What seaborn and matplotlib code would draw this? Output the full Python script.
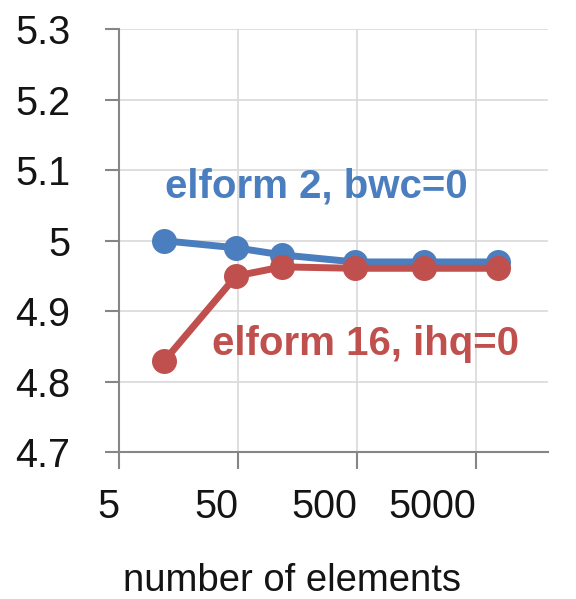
import matplotlib
matplotlib.use("Agg")
import matplotlib.pyplot as plt
import matplotlib.ticker as mticker
import seaborn as sns
import pandas as pd

# data
elements = [12, 48, 117, 475, 1840, 7650]
elform2_bwc0 = [5.00, 4.99, 4.98, 4.97, 4.97, 4.97]
elform16_ihq0 = [4.83, 4.95, 4.963, 4.961, 4.961, 4.961]
series_names = ["elform 2, bwc=0", "elform 16, ihq=0"]
x_ticks = [5, 50, 500, 5000]
x_tick_labels = ["5", "50", "500", "5000"]
y_ticks = [4.7, 4.8, 4.9, 5.0, 5.1, 5.2, 5.3]
y_tick_labels = ["4.7", "4.8", "4.9", "5", "5.1", "5.2", "5.3"]
x_label = "number of elements"

blue = "#4a7ebf"
red = "#c0504d"
txt = "#141414"

df = pd.DataFrame({
    "n": elements + elements,
    "val": elform2_bwc0 + elform16_ihq0,
    "series": [series_names[0]] * len(elements) + [series_names[1]] * len(elements),
})

sns.set_style("white")
plt.rcParams["font.family"] = ["Liberation Sans", "DejaVu Sans"]

fig = plt.figure(figsize=(5.76, 5.99), dpi=100)
ax = fig.add_axes([0.207, 0.245, 0.744, 0.706])

sns.lineplot(data=df, x="n", y="val", hue="series", hue_order=series_names,
             palette=[blue, red], marker="o", markersize=18, linewidth=5,
             markeredgewidth=0, legend=False, ax=ax, zorder=3)

ax.set_xscale("log")
ax.set_xlim(5, 20000)
ax.set_ylim(4.7, 5.3)
ax.set_xticks(x_ticks)
ax.set_xticklabels(x_tick_labels, ha="right")
ax.xaxis.set_minor_locator(mticker.NullLocator())
ax.set_yticks(y_ticks)
ax.set_yticklabels(y_tick_labels)

ax.grid(True, color="#d9d9d9", linewidth=1.2, zorder=0)
ax.set_axisbelow(True)
for s in ["top", "right"]:
    ax.spines[s].set_visible(False)
for s in ["left", "bottom"]:
    ax.spines[s].set_color("#868686")
    ax.spines[s].set_linewidth(1.5)

ax.tick_params(axis="y", which="major", direction="out", length=10, width=1.5,
               color="#868686", pad=25, labelsize=28.5, labelcolor=txt, left=True)
ax.tick_params(axis="x", which="major", direction="out", length=12, width=1.5,
               color="#868686", pad=14, labelsize=28.5, labelcolor=txt, bottom=True)
ax.set_xlabel("")
ax.set_ylabel("")

ax.text(12.1, 5.062, series_names[0], color=blue, fontsize=29, fontweight="bold",
        ha="left", va="baseline")
ax.text(30.1, 4.838, series_names[1], color=red, fontsize=29, fontweight="bold",
        ha="left", va="baseline")

fig.text(292 / 576, 1 - 591 / 599, x_label, fontsize=27.5, color=txt,
         ha="center", va="baseline")

fig.savefig("out.png", dpi=100)
